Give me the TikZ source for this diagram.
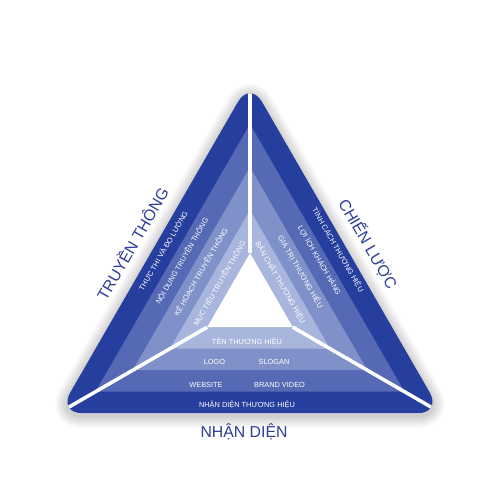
\documentclass[tikz,border=0pt]{standalone}
\usepackage{fontspec}
\setmainfont{Liberation Sans}
\definecolor{bandA}{HTML}{263F9E}
\definecolor{bandB}{HTML}{5569B5}
\definecolor{bandC}{HTML}{8091C9}
\definecolor{bandD}{HTML}{A8B5DC}
\definecolor{ttlblue}{HTML}{2E3D97}
\tikzset{
	lbl/.style={text=white,font=\fontsize{4.2}{5}\selectfont,inner sep=0pt,text height=3pt,text depth=0pt},
	ttl/.style={text=ttlblue,font=\fontsize{9}{11}\selectfont,inner sep=0pt,text height=6.4pt,text depth=0pt},
	sep/.style={white,line width=2pt}
}
\begin{document}
\begin{tikzpicture}[x=0.02cm,y=-0.02cm]
		\useasboundingbox[fill=white] (0,0) rectangle (500,500);
		\coordinate (o-top) at (250,81.1);
		\coordinate (o-left) at (58.3,413.2);
		\coordinate (o-right) at (441.7,413.2);
		\coordinate (i-top) at (250,253.1);
		\coordinate (i-left) at (207.2,327.2);
		\coordinate (i-right) at (292.8,327.2);
		\foreach \w in {3,6,...,24}
			\draw[black,opacity=0.022,line width=\w*0.02cm,rounded corners=0.48cm,line join=round] ([yshift=-0.05cm]o-top) -- ([yshift=-0.05cm]o-right) -- ([yshift=-0.05cm]o-left) -- cycle;
		\fill[bandA,rounded corners=0.48cm] (o-top) -- (o-right) -- (o-left) -- cycle;
		\fill[bandB] (250,124.1) -- (404.5,391.7) -- (95.5,391.7) -- cycle;
		\fill[bandC] (250,167.1) -- (367.3,370.2) -- (132.7,370.2) -- cycle;
		\fill[bandD] (250,210.1) -- (330.0,348.7) -- (170.0,348.7) -- cycle;
		\fill[white] (i-top) -- (i-right) -- (i-left) -- cycle;
		\begin{scope}
			\clip[rounded corners=0.48cm] (o-top) -- (o-right) -- (o-left) -- cycle;
			\draw[sep] (i-top) -- (o-top);
			\draw[sep] (i-left) -- (o-left);
			\draw[sep] (i-right) -- (o-right);
		\end{scope}
		\node[lbl,rotate=60] (thuc-thi) at (163.5,251) {THỰC THI VÀ ĐO LƯỜNG};
		\node[lbl,rotate=60] (noi-dung) at (182,261) {NỘI DUNG TRUYỀN THÔNG};
		\node[lbl,rotate=60] (ke-hoach) at (201,272) {KẾ HOẠCH TRUYỀN THÔNG};
		\node[lbl,rotate=60] (muc-tieu) at (219.5,283.5) {MỤC TIÊU TRUYỀN THÔNG};
		\node[lbl,rotate=-60] (tinh-cach) at (338,250) {TÍNH CÁCH THƯƠNG HIỆU};
		\node[lbl,rotate=-60] (loi-ich) at (319.5,260.5) {LỢI ÍCH KHÁCH HÀNG};
		\node[lbl,rotate=-60] (gia-tri) at (300.5,272) {GIÁ TRỊ THƯƠNG HIỆU};
		\node[lbl,rotate=-60] (ban-chat) at (280.5,282.5) {BẢN CHẤT THƯƠNG HIỆU};
		\node[lbl] (ten) at (247,341.5) {TÊN THƯƠNG HIỆU};
		\node[lbl] (logo) at (214.5,362) {LOGO};
		\node[lbl] (slogan) at (274,362) {SLOGAN};
		\node[lbl] (website) at (206,384.5) {WEBSITE};
		\node[lbl] (video) at (279.5,384.5) {BRAND VIDEO};
		\node[lbl] (nhan-dien-th) at (247,404.5) {NHẬN DIỆN THƯƠNG HIỆU};
		\node[ttl,rotate=60] (truyen-thong) at (133,244) {TRUYỀN THÔNG};
		\node[ttl,rotate=-60] (chien-luoc) at (368,244) {CHIẾN LƯỢC};
		\node[ttl] (nhan-dien) at (244,431.7) {NHẬN DIỆN};
	\end{tikzpicture}
\end{document}
